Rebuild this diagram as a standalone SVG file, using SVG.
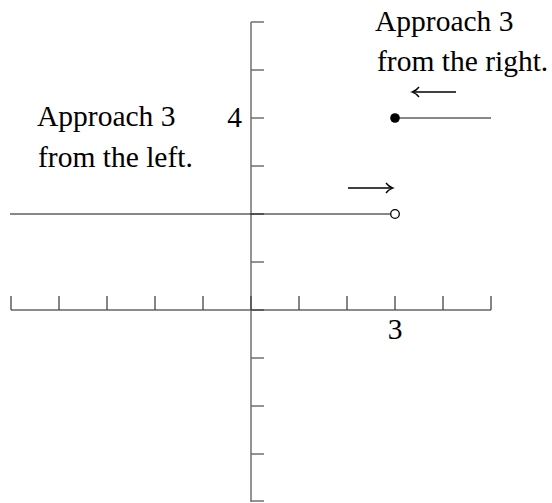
<svg xmlns="http://www.w3.org/2000/svg" width="552" height="503" viewBox="0 0 552 503">
<style>
.ax{stroke:#666;stroke-width:1.4;fill:none}
.tk{stroke:#444;stroke-width:1.3;fill:none}
.fn{stroke:#111;stroke-width:1.2;fill:none}
.ar{stroke:#000;stroke-width:1.3;fill:none}
text{font-family:"Liberation Serif","Times New Roman",serif;font-size:29.5px;fill:#000}
</style>
<rect width="552" height="503" fill="#fff"/>
<g id="axes">
<line class="ax" x1="251" y1="22" x2="251" y2="502"/>
<line class="ax" x1="11" y1="310" x2="491" y2="310"/>
<g id="yticks">
<line class="ax" x1="251" y1="22" x2="264" y2="22"/>
<line class="ax" x1="251" y1="70" x2="264" y2="70"/>
<line class="ax" x1="251" y1="118" x2="264" y2="118"/>
<line class="ax" x1="251" y1="166" x2="264" y2="166"/>
<line class="ax" x1="251" y1="214" x2="264" y2="214"/>
<line class="ax" x1="251" y1="262" x2="264" y2="262"/>
<line class="tk" x1="251" y1="310" x2="264" y2="310"/>
<line class="ax" x1="251" y1="358" x2="264" y2="358"/>
<line class="ax" x1="251" y1="406" x2="264" y2="406"/>
<line class="ax" x1="251" y1="454" x2="264" y2="454"/>
<line class="ax" x1="251" y1="501" x2="264" y2="501"/>
</g>
<g id="xticks">
<line class="tk" x1="11" y1="296" x2="11" y2="310"/>
<line class="tk" x1="59" y1="296" x2="59" y2="310"/>
<line class="tk" x1="107" y1="296" x2="107" y2="310"/>
<line class="tk" x1="155" y1="296" x2="155" y2="310"/>
<line class="tk" x1="203" y1="296" x2="203" y2="310"/>
<line class="tk" x1="251" y1="296" x2="251" y2="310"/>
<line class="tk" x1="299" y1="296" x2="299" y2="310"/>
<line class="tk" x1="347" y1="296" x2="347" y2="310"/>
<line class="tk" x1="395" y1="296" x2="395" y2="310"/>
<line class="tk" x1="443" y1="296" x2="443" y2="310"/>
<line class="tk" x1="491" y1="296" x2="491" y2="310"/>
</g>
<text x="242" y="127" text-anchor="end">4</text>
<text x="395" y="339" text-anchor="middle">3</text>
</g>
<g id="connectors">
<line class="fn" x1="10" y1="214" x2="391" y2="214"/>
<circle cx="395" cy="214" r="4.3" fill="#fff" stroke="#000" stroke-width="1.3"/>
<line class="fn" x1="395" y1="118" x2="491" y2="118"/>
<circle cx="395" cy="118" r="4.8" fill="#000"/>
<g id="arrow-right">
<line class="ar" x1="348" y1="188" x2="392" y2="188"/>
<path class="ar" d="M386,183 Q388.5,186.5 393,188 Q388.5,189.5 386,193"/>
</g>
<g id="arrow-left">
<line class="ar" x1="413" y1="92" x2="456" y2="92"/>
<path class="ar" d="M419,87 Q416.5,90.5 412,92 Q416.5,93.5 419,97"/>
</g>
</g>
<g id="label-left">
<text x="37" y="126">Approach 3</text>
<text x="38" y="167">from the left.</text>
</g>
<g id="label-right">
<text x="375" y="31">Approach 3</text>
<text x="377" y="71">from the right.</text>
</g>
</svg>
